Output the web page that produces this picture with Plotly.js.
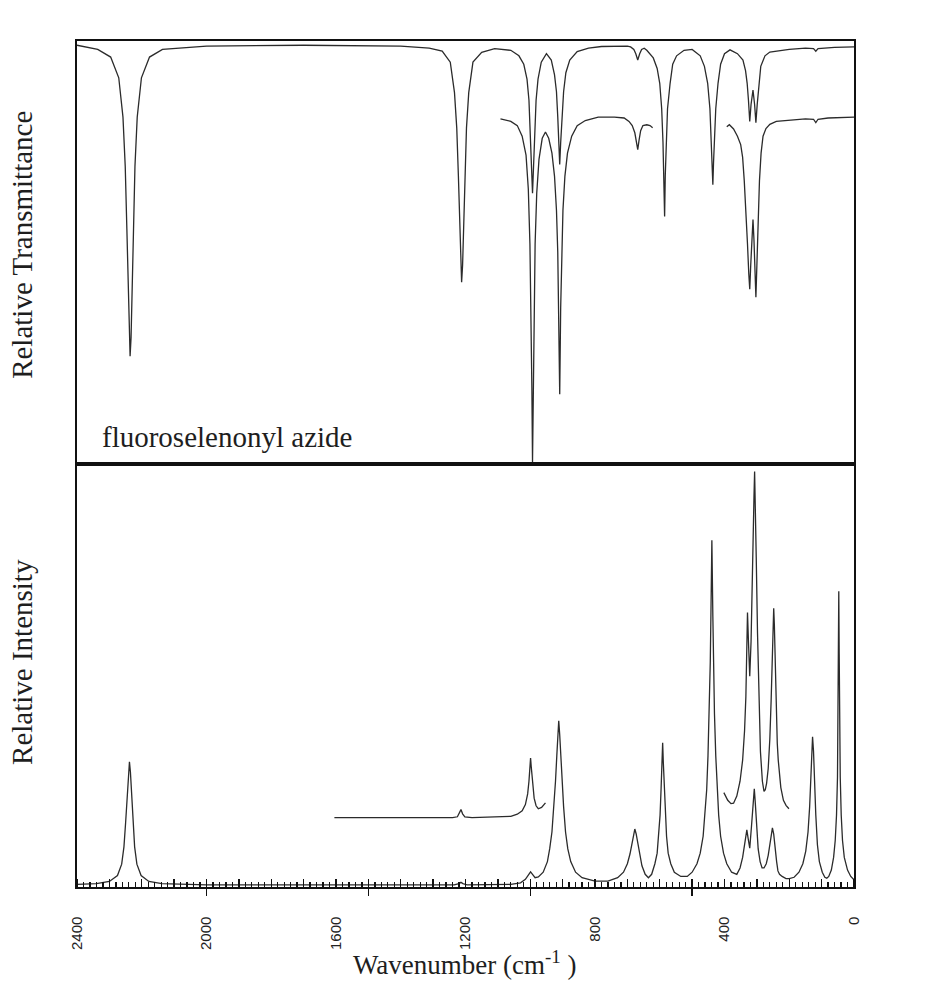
<!DOCTYPE html>
<html>
<head>
<meta charset="utf-8">
<script src="https://cdn.plot.ly/plotly-3.0.1.min.js"></script>
<style>html,body{margin:0;padding:0;background:#fff;}#chart{width:925px;height:1001px;}</style>
</head>
<body>
<div id="chart"></div>
<script>
// ---- IR spectrum (upper panel), relative transmittance ----
const irMainWn = [2400,2336,2296,2271,2258,2251,2246,2242,2239,2236,2233,2230,2226,2221,2214,2201,2176,2136,2000,1700,1400,1312,1272,1247,1234,1227,1222,1218,1215,1212,1209,1206,1202,1197,1190,1177,1150,1110,1060,1035,1020,1010,1004,999,996,993,990,987,982,976,966,950,935,925,919,915,912,909,906,902,897,890,878,855,820,780,700,690,680,674,668,662,656,648,640,620,608,600,594,590,587,585,583,580,576,568,560,548,525,500,475,462,452,445,441,438,436,434,431,427,420,412,400,383,360,343,335,330,326,322,318,312,307,303,299,294,288,275,260,200,150,125,118,111,60,0];
const irMainT  = [99,98,96.2,91.3,82,70.3,55.6,40.2,29.9,25.5,29.9,40.2,55.6,70.3,82,91.3,96.2,98,98.8,99,98.8,98.3,97.6,95,87.8,79.4,68.2,55.9,47,43,47,55.9,68.2,79.4,87.8,95,97.3,98.2,97.8,96.5,94.5,91,86,78,70,64,70,78,86,91,95,97,95.5,92,88,82,76,70.8,76,82,88,92.5,95.5,97.5,98.3,98.7,98.8,98.6,98,97,95.5,97,98,98.3,97.8,96,93.5,90,84,76,68,58.5,68,76,84,90,94.5,96.5,97.8,98,96.5,94,90,84,77,71,66,71,77,84,90,94.5,97,97.9,97,95.5,93,90,86,81,85,88.4,85,80.7,85,90,94,96.5,97.4,98,98.3,98.2,97.6,98.2,98.5,98.6];
// expanded IR segments
const irExp1Wn = [1092,1060,1040,1025,1013,1006,1001,997,995,993,991,989,985,980,973,963,953,943,933,925,919,915,912,909,906,903,899,893,885,872,855,830,790,740,710,695,685,677,672,668,664,659,652,640,630,622];
const irExp1T  = [81.6,81,80,77.5,73,65,52,33,18,0.5,18,33,52,64,72,77,78.5,77,73.5,68,60,50,37,16.5,37,50,60,68,73.5,77.5,80,81.2,82,82,81.8,81,80,78.3,76.5,74.3,76.5,78.8,80,80.2,80,79.5];
const irExp2Wn = [393,385,372,360,350,344,339,334,329,325,322,319,315,312,309,306,303,300,296,292,287,281,272,260,240,200,150,125,118,111,80,0];
const irExp2T  = [79.7,80.2,79.2,77.5,75.5,72.5,67,60.8,52,45,41.3,47,55,57.8,53,46,39.4,47,58,67,73.5,77.5,79.3,80.3,81,81.3,81.6,81.5,80.7,81.5,81.8,82];

// ---- Raman spectrum (lower panel), relative intensity ----
const ramMainWn = [2400,2340,2300,2275,2262,2255,2250,2245,2241,2238,2235,2231,2227,2222,2215,2202,2178,2138,2000,1500,1235,1220,1214,1208,1195,1060,1030,1015,1005,999,993,985,975,960,947,940,933,927,922,918,915,912,909,906,902,897,891,884,875,860,840,800,760,730,712,700,692,686,681,677,673,668,662,655,645,635,625,615,608,603,599,596,593,591,589,586,583,579,574,566,555,535,515,500,485,475,466,460,455,451,447,444,442,440,439,438,436,434,431,427,423,418,412,403,393,378,362,352,344,338,334,331,327,322,317,313,310,308,305,301,296,290,284,278,271,265,260,256,252,248,244,239,235,230,222,210,200,185,170,158,149,142,137,134,131,128,125,122,118,113,107,98,90,84,78,70,63,58,54,51,49.5,48.3,47,45.7,44.5,42.5,39.5,35.5,30,20,10,0];
const ramMainI  = [0.6,0.8,1.3,2.7,5.4,9.5,15,21.9,27.2,29.6,27.2,21.9,15,9.5,5.4,2.7,1.3,0.8,0.5,0.5,0.5,0.8,1.1,0.8,0.5,0.6,1.0,1.8,3.0,3.6,3.0,2.2,2.4,3.5,6,9,13,19,25,31,36,39.3,36,31,25,19,13,9,6,3.5,2.2,1.4,1.4,2.2,3.5,5.5,7.8,10.5,12.6,13.7,12.6,10.5,7.8,5,3,2.2,3,5.5,8,12,17,23,29.5,34.1,29.5,23,17,12,8,5.5,3.5,2.5,2.5,3.5,5.5,8,12,17,23,31,41,53,64,76,82,76,64,53,41,31,23,17,12,8,5.5,3.5,3,4.5,7,10,12.5,13.5,11.5,9.2,14,19,22.5,23.2,20,14,9,6,4.5,4.5,5.5,7.5,10,12.5,14,12.5,9,6,3.8,3,2.5,2,2,2.3,3.5,5.5,8.5,13,19,26,32,35.5,32,25,17,10,6,3.5,2.3,2.1,2.5,4,7,11,17,26,40,55,69.9,55,40,26,17,11,7,4,2.5,1.7];
const ramExp1Wn = [1605,1400,1240,1225,1219,1214,1209,1202,1180,1100,1060,1040,1025,1015,1008,1004,1001,999,997,993,988,982,975,965,953];
const ramExp1I  = [16.4,16.4,16.4,16.6,17.4,18.3,17.3,16.6,16.4,16.5,16.7,17.2,18,19.5,22,25,28.5,30.5,28.5,24.5,21,19.2,18.5,18.8,19.9];
const ramExp2Wn = [402,390,380,372,362,352,344,338,334,331,329,326,322,318,314,311,309,307,305,302,298,294,289,283,278,274,270,265,260,256,253,250,248,246,243,240,237,234,231,226,218,210,201];
const ramExp2I  = [22.3,20.5,19.7,19.8,21.5,25,30,37,45,56,64.9,58,49.8,58,70,82,92,98.2,92,78,60,44,32,25,22.6,23,24.5,28,35,44,54,62,65.9,62,52,42,34,30,27.5,23.5,20.5,19.3,18.5];

// tick labels
const xLabelVals = [2400,2000,1600,1200,800,400,0];
const xLabelText = ['2400','2000','1600','1200','800','400','0'];
const xMajorTicks = [2000,1500,1000,500];

const lineStyle = {color:'#2b2b2b', width:1.3};
const traces = [
  {x:irMainWn, y:irMainT, xaxis:'x2', yaxis:'y2'},
  {x:irExp1Wn, y:irExp1T, xaxis:'x2', yaxis:'y2'},
  {x:irExp2Wn, y:irExp2T, xaxis:'x2', yaxis:'y2'},
  {x:ramMainWn, y:ramMainI, xaxis:'x3', yaxis:'y'},
  {x:ramExp1Wn, y:ramExp1I, xaxis:'x', yaxis:'y'},
  {x:ramExp2Wn, y:ramExp2I, xaxis:'x', yaxis:'y'}
].map(t => Object.assign({type:'scatter', mode:'lines', line:lineStyle, hoverinfo:'skip', showlegend:false, cliponaxis:true}, t));

const serif = 'Liberation Serif, Times New Roman, serif';
const frame = {showline:true, mirror:true, linecolor:'#111', linewidth:1.6, showgrid:false, zeroline:false};

const layout = {
  width:925, height:1001,
  margin:{l:77, r:71, t:41, b:114, pad:0},
  paper_bgcolor:'#fff', plot_bgcolor:'#fff',
  showlegend:false,
  xaxis: Object.assign({}, frame, {
    domain:[0,1], anchor:'y', range:[2400,0], autorange:false,
    tickmode:'array', tickvals:xLabelVals, ticktext:xLabelText,
    ticks:'', showticklabels:true, tickangle:-90, ticklabelstandoff:22,
    tickfont:{family:'Liberation Sans, Arial, sans-serif', size:15, color:'#222'},
    minor:{tickmode:'linear', tick0:0, dtick:20, ticks:'inside', ticklen:5, tickcolor:'#111', tickwidth:1.3}
  }),
  xaxis3: {
    overlaying:'x', anchor:'y', range:[2400,0], autorange:false,
    tickmode:'array', tickvals:xMajorTicks, ticks:'outside', ticklen:8, tickwidth:1.4, tickcolor:'#111',
    showticklabels:false, showline:false, showgrid:false, zeroline:false,
    minor:{tickmode:'linear', tick0:0, dtick:100, ticks:'inside', ticklen:8, tickcolor:'#111', tickwidth:1.3}
  },
  yaxis: Object.assign({}, frame, {domain:[0,0.5], range:[0,100], autorange:false, ticks:'', showticklabels:false}),
  xaxis2: Object.assign({}, frame, {domain:[0,1], anchor:'y2', range:[2400,0], autorange:false, ticks:'', showticklabels:false}),
  yaxis2: Object.assign({}, frame, {domain:[0.5,1], range:[0,100], autorange:false, ticks:'', showticklabels:false}),
  annotations:[
    {text:'fluoroselenonyl azide', xref:'paper', yref:'paper', x:0.0296, y:0.532, xanchor:'left', yanchor:'middle', showarrow:false,
     font:{family:serif, size:29, color:'#1e1e1e'}},
    {text:'Relative Transmittance', xref:'paper', yref:'paper', x:-0.0708, y:0.759, xanchor:'center', yanchor:'middle', textangle:-90, showarrow:false,
     font:{family:serif, size:29, color:'#1e1e1e'}},
    {text:'Relative Intensity', xref:'paper', yref:'paper', x:-0.0708, y:0.266, xanchor:'center', yanchor:'middle', textangle:-90, showarrow:false,
     font:{family:serif, size:29, color:'#1e1e1e'}},
    {text:'Wavenumber (cm<sup>-1</sup> )', xref:'paper', yref:'paper', x:0.4994, y:-0.0898, xanchor:'center', yanchor:'middle', showarrow:false,
     font:{family:serif, size:27, color:'#1e1e1e'}}
  ]
};

Plotly.newPlot('chart', traces, layout, {staticPlot:true, displayModeBar:false});
</script>
</body>
</html>
